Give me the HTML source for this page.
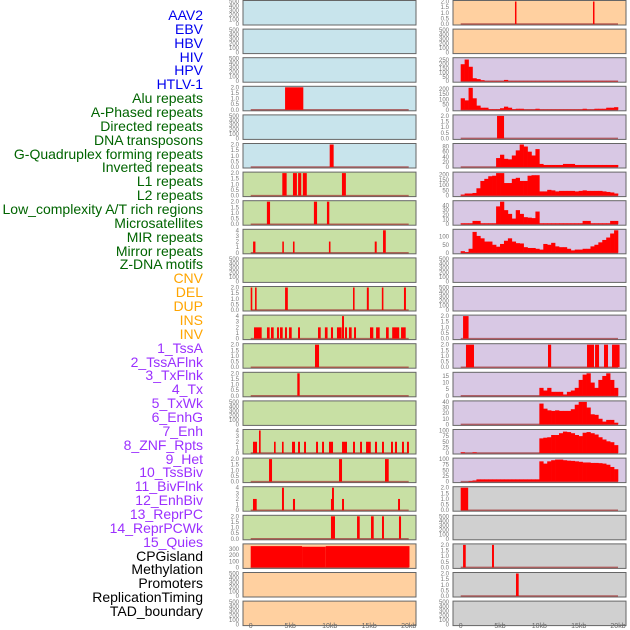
<!DOCTYPE html>
<html><head><meta charset="utf-8"><style>
body{margin:0;background:#fff;width:630px;height:630px;overflow:hidden;font-family:"Liberation Sans",sans-serif}
#labels div{position:absolute;right:427px;font-size:14px;line-height:14px;white-space:nowrap}
</style></head><body>
<div id="labels"></div>
<svg id="chart" width="630" height="630" style="position:absolute;left:0;top:0"></svg>
<script>
// ---- labels ----
const labelNames=["AAV2","EBV","HBV","HIV","HPV","HTLV-1","Alu repeats","A-Phased repeats","Directed repeats","DNA transposons","G-Quadruplex forming repeats","Inverted repeats","L1 repeats","L2 repeats","Low_complexity A/T rich regions","Microsatellites","MIR repeats","Mirror repeats","Z-DNA motifs","CNV","DEL","DUP","INS","INV","1_TssA","2_TssAFlnk","3_TxFlnk","4_Tx","5_TxWk","6_EnhG","7_Enh","8_ZNF_Rpts","9_Het","10_TssBiv","11_BivFlnk","12_EnhBiv","13_ReprPC","14_ReprPCWk","15_Quies","CPGisland","Methylation","Promoters","ReplicationTiming","TAD_boundary"];
const labelGroups=[6,13,5,15,5];
const groupColors=["#0000ee","#006400","#ffa500","#9b30ff","#000"];
// ---- x axis ----
const xTickVals=[0,5,10,15,20];
const xTickLabels=["0","5kb","10kb","15kb","20kb"];
// ---- left column data (bars: [startKb,endKb,height]) ----
const L0=[],L1=[],L2=[];
const L3=[[4.35,6.66,2]];
const L4=[];
const L5=[[10.0,10.5,2]];
const L6=[[4.0,4.55,2],[5.35,5.85,2],[6.0,6.4,2],[6.6,7.1,2],[11.55,12.05,2]];
const L7=[[2.05,2.45,2],[8.0,8.4,2],[9.65,9.95,2]];
const L8=[[0.3,0.6,2],[4.0,4.2,2],[5.35,5.55,2],[9.9,10.1,2],[15.7,15.95,2],[16.75,17.1,4]];
const L9=[];
const L10=[[0,0.2,2],[0.55,0.75,2],[4.35,4.7,2],[12.95,13.15,2],[14.7,14.95,2],[16.6,16.8,2],[19.4,19.65,2]];
const L11=[[0.42,1.39,2],[2.06,2.4,2],[2.57,2.91,2],[3.33,3.58,2],[3.71,4.05,2],[4.34,4.59,2],[4.85,5.19,2],[5.99,6.24,2],[8.52,8.86,2],[9.39,9.73,2],[10.16,10.42,2],[10.92,11.51,2],[11.56,11.81,4],[11.94,12.19,2],[12.44,12.78,2],[13.08,13.33,2],[15.1,15.52,2],[15.87,16.33,2],[17.13,17.47,2],[17.91,18.8,2],[19.03,19.62,2]];
const L12=[[8.14,8.65,2]];
const L13=[[5.9,6.2,2]];
const L14=[];
const L15=[[0.29,0.8,2],[1.05,1.26,4],[2.95,3.16,2],[3.96,4.17,2],[5.23,5.61,2],[5.99,6.24,2],[6.75,7.0,2],[8.27,8.52,2],[9.03,9.28,2],[9.91,10.42,2],[11.56,12.19,2],[12.95,13.2,2],[13.84,14.09,2],[14.6,15.2,2],[15.73,15.99,2],[16.62,16.87,2],[17.76,18.01,2],[18.26,18.52,2],[19.15,19.4,2],[19.78,20.03,2]];
const L16=[[2.32,2.7,2],[11.18,11.56,2],[17.0,17.47,2]];
const L17=[[0.29,0.76,2],[3.96,4.21,4],[5.35,5.61,2],[10.16,10.42,2],[10.29,10.54,4],[11.56,11.81,2],[18.65,18.9,2]];
const L18=[[10.16,10.67,2],[13.46,13.8,2],[15.23,15.57,2],[16.62,16.87,2],[18.77,19.03,2]];
const L19=[[0,6.5,350],[6.5,9.5,340],[9.5,20.1,350]];
const L20=[],L21=[];
// ---- right column data ----
const R0=[[6.9,7.07,2],[16.82,16.99,2]];
const R1=[];
const R2bins=[200,255,170,35,25,12,3,3,3,3,3,15,3,3,3,3,3,3,3,3,3,3,3,3,3,3,3,3,3,3,3,3,3,3,3,3,3,3,3,3];
const R3bins=[110,90,210,110,40,20,20,5,5,5,15,30,20,5,10,10,3,3,3,10,3,3,3,3,3,3,3,3,3,3,3,10,3,3,10,10,10,20,20,25];
const R4=[[4.62,5.51,2]];
const R5bins=[0,0,0,0,0,0,0,0,0,35,48,32,30,45,65,88,80,60,45,70,12,8,8,8,8,8,12,12,12,8,8,8,8,8,8,8,8,8,8,8];
const R6bins=[10,20,20,25,70,140,160,185,190,215,215,120,120,160,170,140,140,190,195,195,40,40,55,50,40,45,45,45,45,40,45,50,45,45,45,45,40,35,30,20];
const R7bins=[2,2,2,7,7,2,2,2,2,38,48,30,22,12,30,22,15,14,13,27,2,2,2,2,2,2,2,2,2,2,2,7,7,2,2,2,2,2,7,7];
const R8bins=[10,5,25,130,105,90,70,70,50,38,55,75,90,70,60,58,35,30,30,25,20,55,50,62,40,35,35,25,15,20,20,25,25,40,50,65,80,95,120,140];
const R9=[],R10=[];
const R11=[[0.3,1.0,2]];
const R12=[[0.67,1.69,2],[11.1,11.5,2],[16.06,16.95,2],[17.08,17.59,2],[18.22,18.73,2],[19.24,20.2,2]];
const R13bins=[0,0,0,0,0,0,0,0,0,0,0,0,0,0,0,0,0,0,0,0,6,4,6,3,3,3,1,3,4,6,12,16,17,10,6,12,15,17,12,6];
const R14bins=[0,0,0,0,0,0,0,0,0,0,0,0,0,0,0,0,0,0,0,0,37,28,25,24,25,24,24,24,27,35,40,40,30,18,17,10,5,8,8,3];
const R15bins=[3,0,0,3,0,0,0,0,0,0,0,0,0,0,0,0,0,0,0,0,65,68,70,80,80,88,95,93,88,80,75,90,93,88,82,70,60,52,48,35];
const R16bins=[0,0,3,5,10,10,10,10,10,10,10,10,10,10,10,10,10,10,10,10,90,80,90,95,98,98,95,93,92,90,88,85,85,83,83,82,80,75,65,55];
const R17=[[0,0.95,2]];
const R18=[];
const R19=[[0.3,0.64,2],[3.98,4.23,2]];
const R20=[[7.03,7.37,2]];
const R21=[];
// y maxima and ticks per panel
const leftYmax=[500,500,500,2,500,2,2,2,4,500,2,4,2,2,500,4,2,4,2,370,500,500];
const rightYmax=[2,500,265,215,2,88,215,48,140,500,500,2,2,17,40,100,100,2,500,2,2,500];
const tickSets={500:[0,100,200,300,400,500],2:[0,0.5,1,1.5,2],4:[0,1,2,3,4],370:[0,100,200,300],265:[0,50,100,150,200,250],215:[0,50,100,150,200],88:[0,20,40,60,80],48:[0,10,20,30,40],140:[0,50,100],17:[0,5,10,15],40:[0,10,20,30,40],100:[0,25,50,75,100]};
const leftData=[L0,L1,L2,L3,L4,L5,L6,L7,L8,L9,L10,L11,L12,L13,L14,L15,L16,L17,L18,L19,L20,L21];
const rightData=[R0,R1,R2bins,R3bins,R4,R5bins,R6bins,R7bins,R8bins,R9,R10,R11,R12,R13bins,R14bins,R15bins,R16bins,R17,R18,R19,R20,R21];

const BLUE="#c8e4ec",GREEN="#c8e0a4",ORANGE="#ffd0a0",PURPLE="#d8c8e4",GREY="#d0d0d0";
function leftBg(i){return i<6?BLUE:(i<19?GREEN:ORANGE);}
function rightBg(i){return i<2?ORANGE:(i<17?PURPLE:GREY);}

const NS="http://www.w3.org/2000/svg";
const svg=document.getElementById('chart');
function mk(t,a,p){const e=document.createElementNS(NS,t);for(const k in a)e.setAttribute(k,a[k]);(p||svg).appendChild(e);return e;}

// labels
const lab=document.getElementById('labels');
let gi=0,cnt=0;
labelNames.forEach((n,i)=>{
  while(cnt>=labelGroups[gi]){cnt=0;gi++;}
  cnt++;
  const d=document.createElement('div');
  d.textContent=n;
  d.style.top=(8+i*13.86)+'px';
  d.style.color=groupColors[gi];
  
  
  lab.appendChild(d);
});

const cols=[{x0:243,x1:416,z:250.7,s:7.9,data:leftData,ymax:leftYmax,bg:leftBg,tx:239,name:'left'},
            {x0:453,x1:626,z:460.7,s:7.865,data:rightData,ymax:rightYmax,bg:rightBg,tx:449,name:'right'}];
cols.forEach(c=>{
  const xs=k=>c.z+k*c.s;
  for(let i=0;i<22;i++){
    const top=0.5+i*28.6,h=24.5;
    const g=mk('g',{});
    
    
    const r=mk('rect',{x:c.x0,y:top,width:c.x1-c.x0,height:h,fill:c.bg(i),stroke:'#666','stroke-width':1},g);
    
    
    const ym=c.ymax[i];
    const yb=top+h-1,yt=top+1;
    const ys=v=>yb-(v/ym)*(yb-yt);
    tickSets[ym].forEach(t=>{
      const tt=mk('text',{x:c.tx,y:ys(t)+2,'text-anchor':'end','font-size':6,fill:'#777'},g);
      tt.textContent=(ym===2)?t.toFixed(1):String(t);
      
      
    });
    const d=c.data[i];
    if(!d.length)continue;
    const bl=mk('line',{x1:xs(0),x2:xs(20),y1:yb,y2:yb,stroke:'rgba(160,50,50,0.7)','stroke-width':1.5},g);
    
    
    if(typeof d[0]==='number'){
      d.forEach((v,b)=>{
        if(v<=0)return;
        const e=mk('rect',{x:xs(b*0.5),y:ys(v),width:xs((b+1)*0.5)-xs(b*0.5)+0.3,height:yb-ys(v),fill:'#ff0000'},g);
        
        
      });
    }else{
      d.forEach(b=>{
        const e=mk('rect',{x:xs(b[0]),y:ys(b[2]),width:Math.max(1.5,xs(b[1])-xs(b[0])),height:yb-ys(b[2]),fill:'#ff0000'},g);
        
        
      });
    }
  }
  xTickVals.forEach((v,j)=>{
    const t=mk('text',{x:xs(v),y:628,'text-anchor':'middle','font-size':7,fill:'#666'});
    t.textContent=xTickLabels[j];
    
    
  });
});
</script>
</body></html>
